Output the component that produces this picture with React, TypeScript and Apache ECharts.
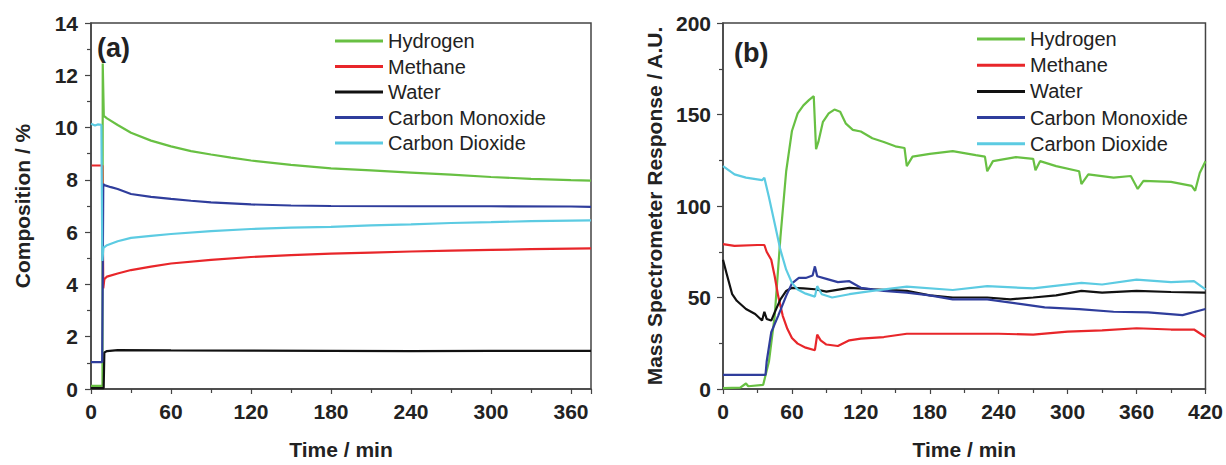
import React, { useEffect, useRef } from "react";
import * as echarts from "echarts";

const seriesNames = ["Hydrogen", "Methane", "Water", "Carbon Monoxide", "Carbon Dioxide"];
const seriesColors = ["#68c043", "#e8262a", "#111111", "#2f3d9c", "#5ccbe2"];

const panelLabels = ["(a)", "(b)"];
const xAxisName = "Time / min";
const yAxisNames = ["Composition / %", "Mass Spectrometer Response / A.U."];

// Panel (a): composition (%) vs time (min)
const aHydrogen = [
  [0, 0.12], [8.6, 0.12], [8.8, 12.45], [9.6, 10.45], [12, 10.35], [20, 10.1], [30, 9.8], [45, 9.5],
  [60, 9.28], [75, 9.1], [90, 8.97], [105, 8.85], [120, 8.74], [150, 8.57], [180, 8.44], [210, 8.36],
  [240, 8.28], [270, 8.2], [300, 8.11], [330, 8.04], [360, 7.99], [375, 7.97],
];
const aMethane = [
  [0.5, 8.55], [8.5, 8.55], [9.2, 3.85], [10, 4.2], [12, 4.3], [20, 4.42], [30, 4.55], [45, 4.68],
  [60, 4.8], [90, 4.94], [120, 5.05], [150, 5.12], [180, 5.18], [210, 5.22], [240, 5.26], [270, 5.29],
  [300, 5.32], [330, 5.35], [360, 5.37], [375, 5.38],
];
const aWater = [
  [0, 0.03], [9.5, 0.03], [10, 1.4], [12, 1.45], [20, 1.49], [60, 1.48], [120, 1.47], [180, 1.46],
  [240, 1.45], [300, 1.46], [375, 1.46],
];
const aCO = [
  [0, 1.03], [8.4, 1.03], [9.2, 7.84], [10, 7.8], [15, 7.72], [20, 7.65], [30, 7.46], [45, 7.35],
  [60, 7.27], [75, 7.2], [90, 7.14], [105, 7.1], [120, 7.06], [150, 7.02], [180, 7.0], [240, 6.99],
  [300, 6.99], [360, 6.98], [375, 6.97],
];
const aCO2 = [
  [0, 10.15], [3, 10.08], [5, 10.12], [7.8, 10.1], [8.5, 4.9], [9.3, 5.4], [12, 5.5], [20, 5.65],
  [30, 5.78], [45, 5.86], [60, 5.93], [90, 6.04], [120, 6.12], [150, 6.17], [180, 6.2], [210, 6.26],
  [240, 6.3], [270, 6.35], [300, 6.38], [330, 6.42], [360, 6.44], [375, 6.45],
];

// Panel (b): mass spectrometer response (A.U.) vs time (min)
const bHydrogen = [
  [0, 0.5], [15, 0.8], [20, 3], [22, 1.5], [35, 2.3], [40, 15], [45, 40], [50, 83], [55, 119], [60, 141],
  [65, 150.6], [70, 155], [75, 158], [79, 160], [81, 131], [83, 135], [87, 146], [92, 150.6], [97, 152.7],
  [102, 151.5], [107, 145], [113, 141.6], [120, 140.7], [130, 137], [140, 135], [150, 132.6], [158, 131.7],
  [160, 121.8], [165, 127], [180, 128.5], [200, 130], [220, 127.8], [228, 127], [230, 119], [235, 124.5],
  [255, 126.7], [270, 125.8], [272, 119.5], [276, 124.5], [290, 121.8], [310, 119], [312, 112],
  [318, 117.3], [340, 115.5], [355, 116.4], [361, 109.3], [366, 113.7], [390, 113.2], [408, 111],
  [411, 108.3], [415, 118], [420, 124.5],
];
const bMethane = [
  [0, 79.2], [10, 78.2], [30, 78.7], [36, 78.7], [38, 75], [42, 70.6], [45, 61.6], [48, 50.9], [52, 40],
  [56, 32.9], [60, 27.9], [65, 24.8], [72, 22.6], [80, 21.2], [82, 29.7], [85, 26.6], [90, 24.3],
  [100, 23.5], [110, 26.6], [120, 27.5], [140, 28.4], [160, 30.2], [200, 30.2], [240, 30.2], [270, 29.7],
  [300, 31.4], [330, 32], [360, 33.2], [390, 32.5], [410, 32.5], [420, 28.4],
];
const bWater = [
  [0, 70.6], [3, 63.4], [8, 51.8], [12, 48.2], [20, 43.7], [28, 41], [34, 37.4], [36, 42.2], [38, 38.3],
  [42, 37.4], [45, 41.9], [50, 49], [55, 53.6], [60, 55.3], [70, 55], [80, 54.5], [90, 53.2], [110, 55.3],
  [130, 54.5], [160, 53.6], [180, 51.2], [200, 50], [230, 50], [250, 49], [270, 50], [290, 51.2],
  [312, 53.6], [330, 52.7], [360, 53.6], [390, 53], [420, 52.7],
];
const bCO = [
  [0, 7.7], [37, 7.7], [38, 14.9], [42, 31], [48, 40], [55, 50.9], [60, 57.7], [66, 60.7], [72, 60.7],
  [78, 62], [80, 67], [82, 61.6], [90, 60.2], [100, 58.4], [110, 58.9], [120, 55.3], [140, 53.6],
  [160, 52.7], [180, 51.2], [200, 49], [230, 49], [260, 46.4], [280, 44.6], [310, 43.7], [340, 42.2],
  [370, 41.9], [400, 40.4], [420, 43.7],
];
const bCO2 = [
  [0, 121.8], [10, 117.3], [20, 115.5], [34, 114.1], [36, 115.5], [40, 104.8], [45, 90.4], [50, 76],
  [55, 65.2], [60, 58], [65, 54.4], [72, 52.1], [80, 50.5], [82, 56.2], [86, 51.8], [95, 50], [110, 51.8],
  [130, 53.6], [160, 55.9], [200, 54.1], [230, 56.2], [270, 55], [312, 58], [330, 57.1], [360, 59.8],
  [390, 58.4], [410, 58.9], [420, 54.4],
];

const panelAData = [aHydrogen, aMethane, aWater, aCO, aCO2];
const panelBData = [bHydrogen, bMethane, bWater, bCO, bCO2];

const FONT = "'Liberation Sans', Arial, sans-serif";
const AXIS_COLOR = "#444";

function xAxisCfg(gridIndex: number, max: number) {
  return {
    type: "value",
    gridIndex,
    min: 0,
    max,
    interval: 60,
    name: xAxisName,
    nameLocation: "middle",
    nameGap: 50,
    nameTextStyle: { fontFamily: FONT, fontWeight: "bold", fontSize: 21, color: "#222" },
    axisLine: { show: true, lineStyle: { color: AXIS_COLOR, width: 1.5 } },
    axisTick: { show: true, inside: false, length: 5, lineStyle: { color: AXIS_COLOR, width: 1.2 } },
    minorTick: { show: true, splitNumber: 2, length: 4, lineStyle: { color: AXIS_COLOR, width: 1.2 } },
    axisLabel: {
      margin: 12,
      fontFamily: FONT,
      fontWeight: "bold",
      fontSize: 21,
      color: "#222",
      showMaxLabel: max % 60 === 0,
    },
    splitLine: { show: false },
  };
}

function yAxisCfg(gridIndex: number, max: number, interval: number, name: string, nameGap: number, margin: number) {
  return {
    type: "value",
    gridIndex,
    min: 0,
    max,
    interval,
    name,
    nameLocation: "middle",
    nameGap,
    nameTextStyle: { fontFamily: FONT, fontWeight: "bold", fontSize: 21, color: "#222" },
    axisLine: { show: true, lineStyle: { color: AXIS_COLOR, width: 1.5 } },
    axisTick: { show: true, inside: false, length: 6, lineStyle: { color: AXIS_COLOR, width: 1.2 } },
    minorTick: { show: true, splitNumber: 2, length: 4, lineStyle: { color: AXIS_COLOR, width: 1.2 } },
    axisLabel: { margin, fontFamily: FONT, fontWeight: "bold", fontSize: 21, color: "#222" },
    splitLine: { show: false },
  };
}

function legendCfg(left: number, top: number, itemGap: number) {
  return {
    orient: "vertical",
    left,
    top,
    icon: "rect",
    itemWidth: 48,
    itemHeight: 3,
    itemGap,
    itemTextGap: 7,
    textStyle: { fontFamily: FONT, fontSize: 20, color: "#222", padding: [0, 0, 0, 0] },
    data: seriesNames,
    selectedMode: false,
  };
}

export default function App() {
  const ref = useRef<HTMLDivElement>(null);

  useEffect(() => {
    if (!ref.current) return;
    const chart = echarts.init(ref.current, undefined, { renderer: "svg" });

    const series: any[] = [];
    [panelAData, panelBData].forEach((panel, p) => {
      panel.forEach((data, i) => {
        series.push({
          type: "line",
          name: seriesNames[i],
          xAxisIndex: p,
          yAxisIndex: p,
          data,
          symbol: "none",
          lineStyle: { color: seriesColors[i], width: 2.2 },
          itemStyle: { color: seriesColors[i] },
          z: 2 + i,
        });
      });
    });

    chart.setOption({
      animation: false,
      backgroundColor: "#ffffff",
      grid: [
        { left: 91, top: 23, width: 500, height: 371, show: true, borderColor: AXIS_COLOR, borderWidth: 1.5, backgroundColor: "transparent" },
        { left: 723, top: 23, width: 484, height: 371, show: true, borderColor: AXIS_COLOR, borderWidth: 1.5, backgroundColor: "transparent" },
      ],
      xAxis: [xAxisCfg(0, 375), xAxisCfg(1, 420)],
      yAxis: [
        yAxisCfg(0, 14, 2, yAxisNames[0], 58.5, 13),
        yAxisCfg(1, 200, 50, yAxisNames[1], 58.5, 12),
      ],
      legend: [legendCfg(330, 26, 5.5), legendCfg(972, 24, 6.2)],
      graphic: [
        {
          type: "text",
          left: 97,
          top: 34,
          style: { text: panelLabels[0], font: `bold 27px ${FONT}`, fill: "#222" },
        },
        {
          type: "text",
          left: 734,
          top: 39,
          style: { text: panelLabels[1], font: `bold 27px ${FONT}`, fill: "#222" },
        },
      ],
      series,
    });

    return () => chart.dispose();
  }, []);

  return (
    <div
      ref={ref}
      style={{ position: "fixed", left: 0, top: 0, width: 1226, height: 465, background: "#fff" }}
    />
  );
}
